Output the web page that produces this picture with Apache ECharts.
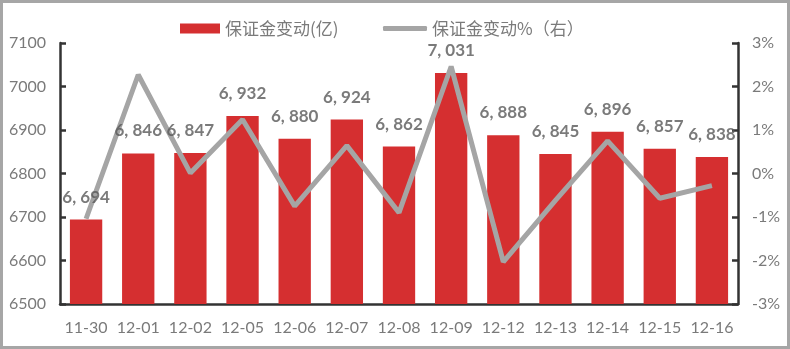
<!DOCTYPE html>
<html>
<head>
<meta charset="utf-8">
<script src="https://cdn.jsdelivr.net/npm/echarts@6/dist/echarts.min.js"></script>
<style>
  html, body { margin: 0; padding: 0; background: #fff; }
  #wrap { position: relative; width: 790px; height: 349px; }
  #chart { width: 790px; height: 349px; }
  #frame { position: absolute; left: 0; top: 0; width: 790px; height: 349px;
           box-sizing: border-box; border: 3px solid #a6a6a6; pointer-events: none; }
</style>
</head>
<body>
<div id="wrap">
  <div id="chart"></div>
  <div id="frame"></div>
</div>
<script>
// Trading dates
const dates = ['11-30', '12-01', '12-02', '12-05', '12-06', '12-07', '12-08',
               '12-09', '12-12', '12-13', '12-14', '12-15', '12-16'];
// Margin balance (亿)
const margin = [6694, 6846, 6847, 6932, 6880, 6924, 6862, 7031, 6888, 6845, 6896, 6857, 6838];
// Day-over-day change of margin balance (%)
const marginPct = [-1.04, 2.27, 0.01, 1.24, -0.75, 0.64, -0.90, 2.46, -2.03, -0.62, 0.75, -0.57, -0.28];

const barName = '保证金变动(亿)';
const lineName = '保证金变动%（右）';

const axisColor = '#333333';
const labelColor = '#7a7a7a';
const font = 'Lato, "Noto Sans", sans-serif';

const fmtThousands = v => {
  const s = String(v);
  return s.slice(0, s.length - 3) + ', ' + s.slice(-3);
};

const chart = echarts.init(document.getElementById('chart'));
chart.setOption({
  animation: false,
  backgroundColor: '#ffffff',
  grid: { left: 60, right: 52, top: 43, bottom: 45, containLabel: false },
  legend: [
    {
      data: [{ name: barName, icon: 'rect' }],
      left: 175, top: 15,
      itemWidth: 40, itemHeight: 10, itemGap: 8,
      textStyle: { color: labelColor, fontSize: 17, fontFamily: '"Noto Sans CJK SC", sans-serif' }
    },
    {
      data: [{ name: lineName, icon: 'roundRect' }],
      left: 378, top: 15,
      itemWidth: 44, itemHeight: 5, itemGap: 8,
      textStyle: { color: labelColor, fontSize: 17, fontFamily: '"Noto Sans CJK SC", sans-serif' }
    }
  ],
  xAxis: {
    type: 'category',
    data: dates,
    axisLine: { onZero: false, lineStyle: { color: axisColor, width: 2.5 } },
    axisTick: { show: false },
    axisLabel: { color: labelColor, fontSize: 16, fontFamily: font, margin: 16, interval: 0 }
  },
  yAxis: [
    {
      type: 'value', min: 6500, max: 7100, interval: 100,
      axisLine: { show: true, lineStyle: { color: axisColor, width: 2.5 } },
      axisTick: { show: true, inside: true, length: 6, lineStyle: { color: axisColor, width: 2.5 } },
      splitLine: { show: false },
      axisLabel: { color: labelColor, fontSize: 16, fontFamily: font, margin: 14,
                   formatter: v => String(v) }
    },
    {
      type: 'value', min: -3, max: 3, interval: 1,
      axisLine: { show: true, lineStyle: { color: axisColor, width: 2.5 } },
      axisTick: { show: true, inside: true, length: 6, lineStyle: { color: axisColor, width: 2.5 } },
      splitLine: { show: false },
      axisLabel: { color: labelColor, fontSize: 16, fontFamily: font, margin: 14,
                   formatter: v => v + '%' }
    }
  ],
  series: [
    {
      name: barName,
      type: 'bar',
      data: margin,
      barCategoryGap: '38%',
      itemStyle: { color: '#d52f30' },
      z: 2
    },
    {
      name: lineName,
      type: 'line',
      yAxisIndex: 1,
      data: marginPct,
      showSymbol: false,
      symbol: 'none',
      lineStyle: { color: '#a5a5a5', width: 5 },
      itemStyle: { color: '#a5a5a5' },
      z: 3
    },
    {
      // value labels placed above each bar, drawn on top of the line
      name: 'barLabels',
      type: 'scatter',
      data: margin,
      symbolSize: 0,
      silent: true,
      z: 10,
      label: {
        show: true, position: 'top', distance: 14,
        color: '#595959', fontSize: 17, fontWeight: 'bold', fontFamily: font,
        formatter: p => fmtThousands(p.value)
      }
    }
  ]
});
</script>
</body>
</html>
